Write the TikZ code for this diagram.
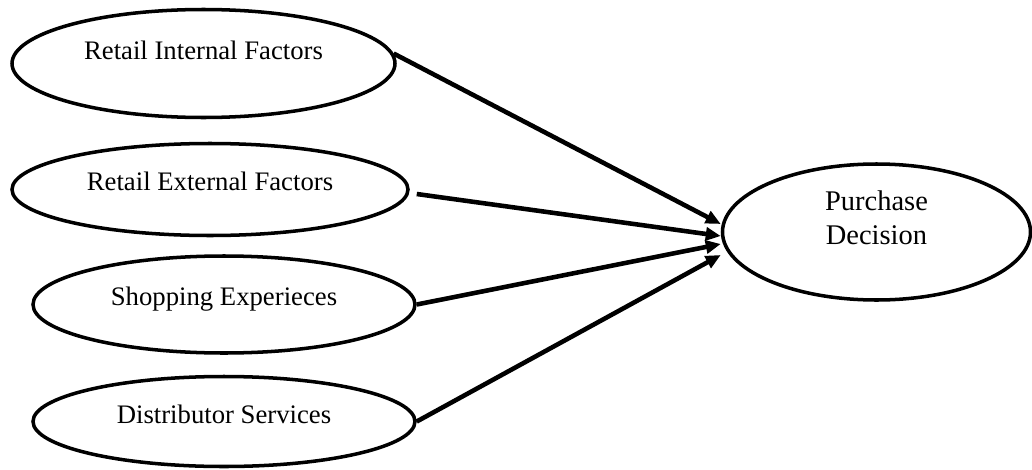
\documentclass[tikz,border=0pt]{standalone}
\usepackage{fontspec}
\setmainfont{Liberation Serif}
\usetikzlibrary{shapes.geometric}
\usetikzlibrary{arrows.meta}
\usetikzlibrary{calc}

\begin{document}
\begin{tikzpicture}[oval/.style={draw, ellipse, line width=2pt, inner sep=0pt},
	factor/.style={anchor=base, font=\fontsize{15.2}{18}\selectfont},
	link/.style={line width=2.6pt, -{Triangle[length=0.3cm, width=0.26cm]}}]
		% Factors influencing the purchase decision

% Frame
\useasboundingbox (0,0) rectangle (20.64,-9.38);

% Centres
\coordinate (c1) at (4.07,-1.27);
\coordinate (c2) at (4.20,-3.79);
\coordinate (c3) at (4.48,-6.09);
\coordinate (c4) at (4.48,-8.43);
\coordinate (c5) at (17.53,-4.64);

% Nodes
\node[oval, minimum width=7.66cm, minimum height=2.16cm] (rif) at (c1) {};
\node[oval, minimum width=7.92cm, minimum height=1.84cm] (ref) at (c2) {};
\node[oval, minimum width=7.64cm, minimum height=1.94cm] (se) at (c3) {};
\node[oval, minimum width=7.64cm, minimum height=1.80cm] (ds) at (c4) {};
\node[oval, minimum width=6.16cm, minimum height=2.72cm] (pd) at (c5) {};

% Labels
\node[factor] (rif-t) at ([yshift=0.084cm]rif.center) {Retail Internal Factors};
\node[factor] (ref-t) at ([yshift=-0.024cm]ref.center) {Retail External Factors};
\node[factor] (se-t) at ([yshift=-0.01cm]se.center) {Shopping Experieces};
\node[factor] (ds-t) at ([yshift=-0.036cm]ds.center) {Distributor Services};
\node[font=\fontsize{16.2}{19.5}\selectfont, align=center] (pd-t) at ([yshift=0.28cm]pd.center) {Purchase\\Decision};

% Connections
\draw[link] (rif.3) -- ([yshift=0.16cm]pd.west);
\draw[link] ([xshift=0.14cm,yshift=-0.09cm]ref.east) -- ([yshift=-0.08cm]pd.west);
\draw[link] (se.east) -- ([yshift=-0.24cm]pd.west);
\draw[link] (ds.east) -- ([yshift=-0.46cm]pd.west);
\end{tikzpicture}
\end{document}
